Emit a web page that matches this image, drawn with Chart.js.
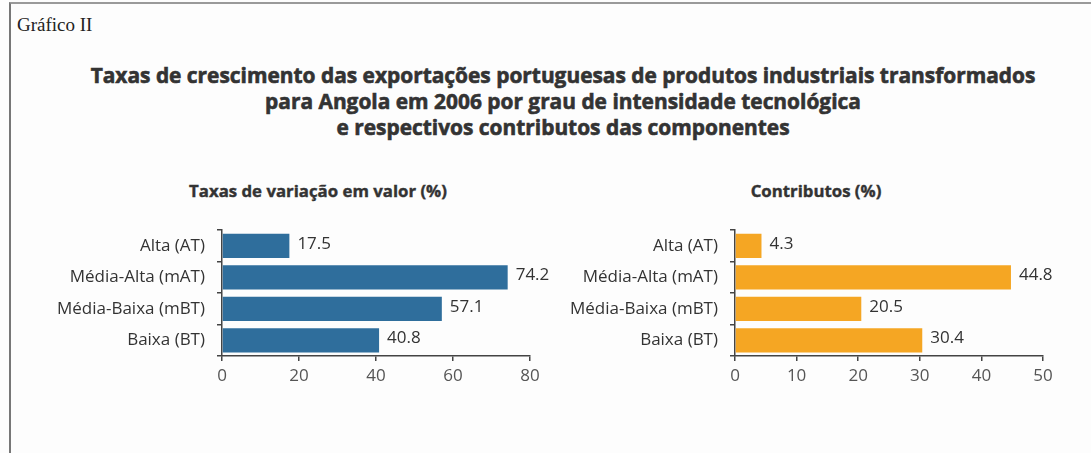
<!DOCTYPE html>
<html>
<head>
<meta charset="utf-8">
<script src="https://cdn.jsdelivr.net/npm/chart.js@4"></script>
<style>
  body { margin: 0; background: #fdfdfd; width: 1091px; height: 453px; overflow: hidden; position: relative; }
  #frame { position: absolute; left: 9px; top: 2px; width: 1100px; height: 470px; border-top: 2px solid #9a9a9a; border-left: 2px solid #777; }
  #tag { position: absolute; left: 17px; top: 14px; font: 19px "Liberation Serif", serif; color: #222; }
  #title { position: absolute; left: 0; width: 1126px; top: 62px; text-align: center; font: bold 20.9px "Open Sans", sans-serif; line-height: 26px; color: #333; -webkit-text-stroke: 0.6px #333; }
  .sub { position: absolute; top: 179px; font: bold 16.8px "Open Sans", sans-serif; color: #333; text-align: center; -webkit-text-stroke: 0.4px #333; }
  .box { position: absolute; }
</style>
</head>
<body>
<div id="frame"></div>
<div id="tag">Gráfico II</div>
<div id="title">Taxas de crescimento das exportações portuguesas de produtos industriais transformados<br>para Angola em 2006 por grau de intensidade tecnológica<br>e respectivos contributos das componentes</div>
<div class="sub" style="left:168px;width:300px">Taxas de variação em valor (%)</div>
<div class="sub" style="left:666px;width:300px">Contributos (%)</div>
<div class="box" style="left:10px;top:208px"><canvas id="leftChart" width="555" height="180"></canvas></div>
<div class="box" style="left:550px;top:208px"><canvas id="rightChart" width="530" height="180"></canvas></div>

<script>
// Categories and values
const categories = ["Alta (AT)", "Média-Alta (mAT)", "Média-Baixa (mBT)", "Baixa (BT)"];
const taxasVariacao = [17.5, 74.2, 57.1, 40.8];
const contributos = [4.3, 44.8, 20.5, 30.4];
const leftTicks = [0, 20, 40, 60, 80];
const rightTicks = [0, 10, 20, 30, 40, 50];

const labelFont = { family: "'Open Sans', sans-serif", size: 17 };

// Write the value at the end of each bar
const valueLabels = {
  id: "valueLabels",
  afterDatasetsDraw(chart) {
    const ctx = chart.ctx;
    const meta = chart.getDatasetMeta(0);
    ctx.save();
    ctx.font = "17px 'Open Sans', sans-serif";
    ctx.fillStyle = "#333";
    ctx.textBaseline = "middle";
    meta.data.forEach((bar, i) => {
      ctx.fillText(chart.data.datasets[0].data[i].toFixed(1), bar.x + 8, bar.y - 2);
    });
    ctx.restore();
  }
};

function makeChart(id, values, ticks, color, yWidth, padRight) {
  const ctx = document.getElementById(id).getContext("2d");
  return new Chart(ctx, {
    type: "bar",
    data: {
      labels: categories,
      datasets: [{
        data: values,
        backgroundColor: color,
        borderWidth: 0,
        categoryPercentage: 1,
        barPercentage: 0.77
      }]
    },
    options: {
      indexAxis: "y",
      responsive: false,
      animation: false,
      layout: { autoPadding: false, padding: { top: 5, right: padRight, bottom: 0, left: 0 } },
      plugins: { legend: { display: false }, tooltip: { enabled: false } },
      scales: {
        x: {
          min: ticks[0],
          max: ticks[ticks.length - 1],
          afterBuildTicks: scale => { scale.ticks = ticks.map(v => ({ value: v })); },
          afterFit: scale => { scale.height = 32; },
          grid: { drawOnChartArea: false, tickLength: 5, color: "#444", lineWidth: 1.5 },
          border: { color: "#444", width: 1.5 },
          ticks: { color: "#555", font: labelFont, padding: 5, maxRotation: 0 }
        },
        y: {
          afterFit: scale => { scale.width = yWidth; },
          grid: { drawOnChartArea: false, offset: true, tickLength: 5, color: "#444", lineWidth: 1.5 },
          border: { color: "#444", width: 1.5 },
          ticks: { color: "#333", font: labelFont, padding: 12 }
        }
      }
    },
    plugins: [valueLabels]
  });
}

makeChart("leftChart", taxasVariacao, leftTicks, "#2f6e9c", 212, 35);
makeChart("rightChart", contributos, rightTicks, "#f5a623", 185, 37);
</script>
</body>
</html>
